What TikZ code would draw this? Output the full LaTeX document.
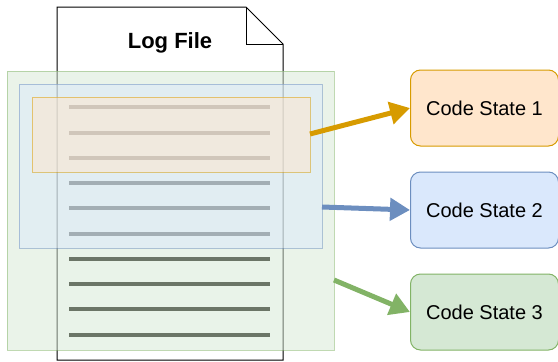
\documentclass[tikz,border=0pt]{standalone}
\usepackage{fontspec}
\setmainfont{Liberation Sans}
\usetikzlibrary{arrows.meta}

\definecolor{orangeFill}{HTML}{FFE6CC}
\definecolor{orangeLine}{HTML}{D79B00}
\definecolor{blueFill}{HTML}{DAE8FC}
\definecolor{blueLine}{HTML}{6C8EBF}
\definecolor{greenFill}{HTML}{D5E8D4}
\definecolor{greenLine}{HTML}{82B366}
\definecolor{rowOrange}{HTML}{D0C6BA}
\definecolor{rowBlue}{HTML}{A3AEB4}
\definecolor{rowDark}{HTML}{6B7567}

\tikzset{
  region/.style={fill opacity=0.5, draw opacity=0.5, line width=1pt},
  row/.style={line width=4.5pt},
  state/.style={draw, rounded corners=10pt, line width=1pt, minimum width=148pt,
                minimum height=76pt, anchor=west, inner sep=0pt,
                font=\fontsize{20}{24}\selectfont},
  link/.style={line width=5pt, -{Triangle[length=20pt,width=22pt]}}
}

\begin{document}
\begin{tikzpicture}[x=1pt,y=-1pt]
  \useasboundingbox (0,0) rectangle (558,362);

  % the log file sheet with folded corner
  \draw[fill=white, line width=1pt] (57,7) -- (246,7) -- (283,44) -- (283,360) -- (57,360) -- cycle;
  \draw[line width=1pt] (246,7) -- (246,44) -- (283,44);
  \node[font=\bfseries\fontsize{22}{26}\selectfont] (title) at (170,43) {Log File};

  % nested highlight regions
  \draw[region, fill=greenFill, draw=greenLine] (7,71) rectangle (334,350);
  \draw[region, fill=blueFill, draw=blueLine] (19,84) rectangle (322,248);
  \draw[region, fill=orangeFill, draw=orangeLine] (32,97) rectangle (310,172);

  % log entries
  \foreach \y in {107,133,158} \draw[row, rowOrange] (69,\y) -- (270,\y);
  \foreach \y in {183,208,234} \draw[row, rowBlue] (69,\y) -- (270,\y);
  \foreach \y in {259,284,309,335} \draw[row, rowDark] (69,\y) -- (270,\y);

  % code states
  \node[state, fill=orangeFill, draw=orangeLine] (cs1) at (410,108) {Code State 1};
  \node[state, fill=blueFill, draw=blueLine] (cs2) at (410,210) {Code State 2};
  \node[state, fill=greenFill, draw=greenLine] (cs3) at (410,312) {Code State 3};

  % arrow start points on the region edges
  \coordinate (r1) at (310,134);
  \coordinate (r2) at (322,207);
  \coordinate (r3) at (334,280);

  \draw[link, orangeLine] (r1) -- (cs1.west);
  \draw[link, blueLine] (r2) -- (cs2.west);
  \draw[link, greenLine] (r3) -- (cs3.west);
\end{tikzpicture}
\end{document}
